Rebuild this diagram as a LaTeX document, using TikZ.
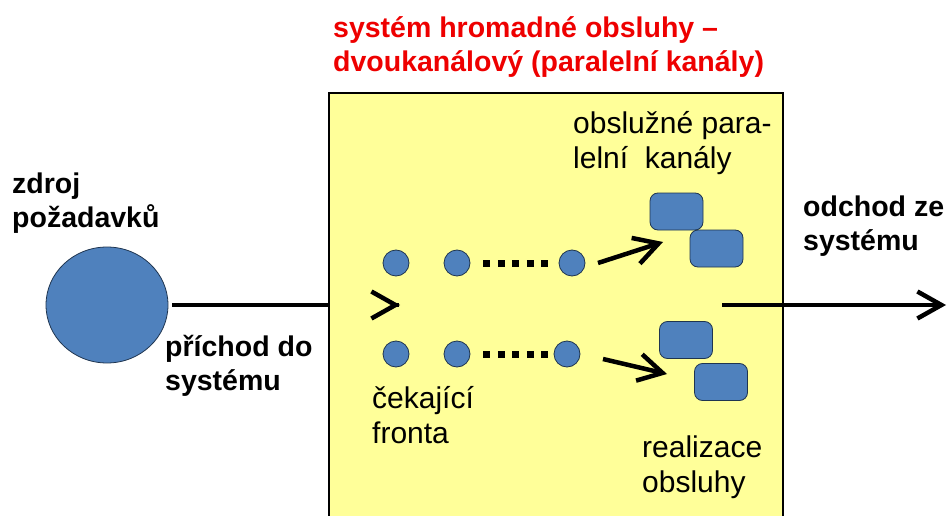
\documentclass[tikz,border=0pt]{standalone}
\usepackage{fontspec}
\setmainfont{Liberation Sans}
\usetikzlibrary{arrows.meta,shapes.geometric}
\definecolor{boxyellow}{HTML}{FFFF99}
\definecolor{itemblue}{HTML}{4F81BD}
\definecolor{itemline}{HTML}{1F3550}
\definecolor{titlered}{HTML}{EE0000}

\begin{document}
\begin{tikzpicture}[x=1pt,y=-1pt,
  sysbox/.style={draw=black, line width=1.3pt, fill=boxyellow, inner sep=0pt},
  source/.style={ellipse, draw=itemline, line width=0.8pt, fill=itemblue,
    minimum width=122pt, minimum height=116pt, inner sep=0pt},
  request/.style={circle, draw=itemline, line width=0.8pt, fill=itemblue,
    minimum size=26pt, inner sep=0pt},
  channel/.style={rectangle, rounded corners=8pt, draw=itemline, line width=0.8pt,
    fill=itemblue, minimum width=53pt, minimum height=37pt, inner sep=0pt},
  flow/.style={line width=4.5pt},
  barb/.style={-{Straight Barb[length=24pt,width=27pt]}},
  waiting/.style={line width=7pt, dash pattern=on 7pt off 7.5pt},
  boldlabel/.style={font=\fontsize{28.5}{34}\selectfont\bfseries, align=left,
    anchor=base west, inner sep=0pt},
  label/.style={font=\fontsize{30}{35}\selectfont, align=left,
    anchor=base west, inner sep=0pt},
]
\useasboundingbox (0,0) rectangle (948,516);

% the service system (its lower edge runs off the page)
\node[sysbox, minimum width=454pt, minimum height=447pt] (sys) at (556,316.5) {};

% source of requests and the arrival flow
\node[source] (src) at (107,305) {};
\draw[flow, shorten <=4pt] (src) -- (src -| sys.west);
\coordinate (qin) at (400,305);
\draw[flow, barb] ([xshift=-1pt]qin) -- (qin);

% two waiting lines
\node[request] (q11) at (396,263) {};
\node[request] (q12) at (457,263) {};
\node[request] (q13) at (572,263) {};
\node[request] (q21) at (396,354) {};
\node[request] (q22) at (457,354) {};
\node[request] (q23) at (567,354) {};
\draw[waiting, shorten <=13pt, shorten >=11pt] (q12) -- (q13);
\draw[waiting, shorten <=13pt, shorten >=6pt] (q22) -- (q23);

% parallel service channels
\node[channel] (ch1) at (676.5,211.5) {};
\node[channel] (ch2) at (716.5,248.5) {};
\node[channel] (ch3) at (686,340) {};
\node[channel] (ch4) at (721,382) {};

\coordinate (a1s) at (598,263);
\coordinate (a1e) at (663,242);
\coordinate (a2s) at (603,359);
\coordinate (a2e) at (667,374);
\draw[flow, barb] (a1s) -- (a1e);
\draw[flow, barb] (a2s) -- (a2e);

% departure flow
\coordinate (outs) at (722,305);
\coordinate (oute) at (946,305);
\draw[flow, barb] (outs) -- (oute);

% labels (each anchored at the baseline of its last line)
\node[boldlabel, text=titlered] (title) at (333,72)
  {systém hromadné obsluhy –\\dvoukanálový (paralelní kanály)};
\node[boldlabel] (srclabel) at (12,227) {zdroj\\požadavků};
\node[boldlabel] (inlabel) at (165,390) {příchod do\\systému};
\node[boldlabel] (outlabel) at (803,250) {odchod ze\\systému};
\node[label] (chlabel) at (573,168) {obslužné para\mbox{-}\\lelní~ kanály};
\node[label] (qlabel) at (372,443) {čekající\\fronta};
\node[label] (svlabel) at (642,492) {realizace\\obsluhy};
\end{tikzpicture}
\end{document}
